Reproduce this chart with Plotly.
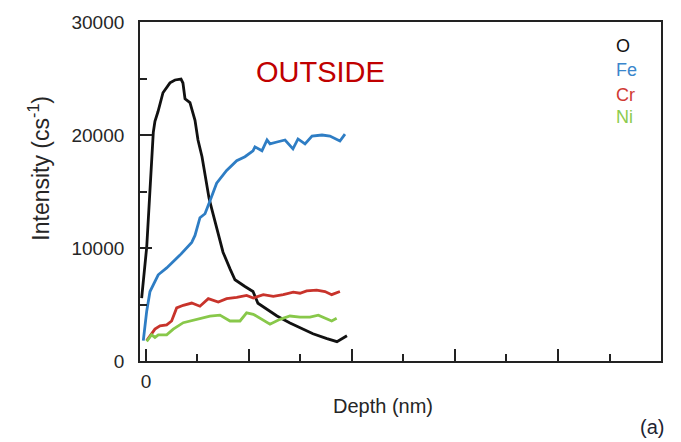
import plotly.graph_objects as go

# ---- data ----
o_depth = [-0.42, 0.07, 0.71, 0.87, 1.17, 1.65, 2.33, 2.82, 3.40, 3.59, 3.79, 4.27, 4.76, 5.05, 5.44,
           5.92, 6.12, 6.41, 6.99, 7.48, 8.16, 8.64, 9.61, 10.39, 10.87, 11.75, 12.72, 13.98, 14.95,
           16.21, 17.57, 18.54, 19.51]
o_int = [5570, 10070, 20230, 21210, 22080, 23740, 24610, 24870, 24950, 24600, 23210, 22860, 21300, 19560,
         18080, 15730, 14420, 13380, 11370, 9630, 8150, 7190, 6590, 6150, 5110, 4590, 3980, 3370, 2930,
         2410, 1980, 1710, 2240]

fe_depth = [-0.26, 0.07, 0.39, 0.71, 1.19, 2.01, 3.30, 4.44, 4.76, 5.24, 5.73, 6.21, 6.86, 7.83, 8.81,
            9.61, 10.39, 10.58, 11.26, 11.75, 12.04, 12.72, 13.50, 14.27, 14.76, 15.44, 16.12, 17.09,
            17.86, 18.83, 19.32]
fe_int = [1800, 4410, 6150, 6760, 7630, 8240, 9370, 10500, 11110, 12680, 13030, 14160, 15730, 16860, 17730,
          18080, 18600, 18950, 18600, 19560, 19210, 19380, 19560, 18770, 19650, 19210, 19910, 20000,
          19910, 19470, 20080]

cr_depth = [0.07, 0.87, 1.36, 2.01, 2.49, 2.98, 3.62, 4.44, 5.24, 6.05, 7.02, 7.83, 8.81, 9.77, 10.42,
            11.39, 12.36, 13.33, 14.30, 14.95, 15.60, 16.57, 17.38, 18.03, 18.83]
cr_int = [1800, 2820, 3110, 3190, 3540, 4700, 4930, 5130, 4850, 5520, 5220, 5520, 5630, 5800, 5570,
          5870, 5720, 5870, 6090, 6000, 6210, 6270, 6150, 5870, 6150]

ni_depth = [0.07, 0.55, 0.87, 1.20, 2.01, 2.65, 3.62, 4.92, 6.21, 7.18, 8.16, 9.13, 9.77, 10.42, 11.23,
            12.04, 13.01, 13.98, 14.95, 15.92, 16.73, 17.54, 18.03, 18.51]
ni_int = [1740, 2320, 2090, 2320, 2320, 2820, 3390, 3690, 3980, 4060, 3540, 3540, 4260, 4130, 3690,
          3250, 3690, 3980, 3890, 3890, 4060, 3690, 3540, 3780]

series_names = ["O", "Fe", "Cr", "Ni"]
line_colors = ["#111111", "#2E7DC4", "#C8332B", "#88C84A"]
label_colors = ["#111111", "#3A86CC", "#D03A33", "#8CCB4E"]

x_labeled_ticks = [0]
x_tick_labels = ["0"]
x_unlabeled_major_ticks = [10, 20, 30, 40]
y_major_ticks = [0, 10000, 20000, 30000]
y_tick_labels = ["0", "10000", "20000", "30000"]

FONT = "Liberation Sans, Arial, Helvetica, sans-serif"
TXT = "#262626"
X_RANGE = [-0.58, 50]

fig = go.Figure()
for xs, ys, col in zip([o_depth, fe_depth, cr_depth, ni_depth],
                       [o_int, fe_int, cr_int, ni_int], line_colors):
    fig.add_trace(go.Scatter(x=xs, y=ys, mode="lines",
                             line=dict(color=col, width=2.8), showlegend=False,
                             hoverinfo="skip"))
# empty helper trace so that the overlaying tick-only axis is drawn
fig.add_trace(go.Scatter(x=[], y=[], xaxis="x2", yaxis="y", showlegend=False,
                         hoverinfo="skip"))

fig.update_layout(
    width=681, height=442,
    margin=dict(l=140, r=20, t=16, b=81),
    paper_bgcolor="white", plot_bgcolor="white",
    font=dict(family=FONT, color=TXT, size=19),
    showlegend=False,
)

tick_style = dict(ticks="inside", ticklen=12, tickwidth=1.8, tickcolor="#222")
fig.update_layout(
    xaxis=dict(
        range=X_RANGE, showgrid=False, zeroline=False,
        showline=True, linecolor="#222", linewidth=1.8, mirror=True,
        tickmode="array", tickvals=x_labeled_ticks, ticktext=x_tick_labels,
        ticklabelstandoff=2,
        minor=dict(tickmode="linear", tick0=5, dtick=10, ticks="inside", ticklen=7,
                   tickwidth=1.8, tickcolor="#222", showgrid=False),
        tickfont=dict(size=19, color=TXT), **tick_style,
    ),
    xaxis2=dict(
        range=X_RANGE, overlaying="x", anchor="y", side="bottom",
        showgrid=False, zeroline=False, showline=False, showticklabels=False,
        tickmode="array", tickvals=x_unlabeled_major_ticks, **tick_style,
    ),
    yaxis=dict(
        range=[0, 30000], showgrid=False, zeroline=False,
        showline=True, linecolor="#222", linewidth=1.8, mirror=True,
        tickmode="array", tickvals=y_major_ticks, ticktext=y_tick_labels,
        ticklabelstandoff=10,
        minor=dict(tickmode="linear", tick0=5000, dtick=10000, ticks="inside", ticklen=7,
                   tickwidth=1.8, tickcolor="#222", showgrid=False),
        tickfont=dict(size=19, color=TXT), **tick_style,
    ),
)

annotations = [
    dict(text="OUTSIDE", x=0.347, y=0.852, font=dict(size=29, color="#C00000"),
         xanchor="center", yanchor="middle"),
    dict(text="Intensity (cs<sup>-1</sup>)", x=-0.194, y=0.570, textangle=-90,
         font=dict(size=23, color=TXT), xanchor="center", yanchor="middle"),
    dict(text="Depth (nm)", x=0.466, y=-0.133, font=dict(size=20, color=TXT),
         xanchor="center", yanchor="middle"),
    dict(text="(a)", x=0.983, y=-0.194, font=dict(size=20, color="#1e2433"),
         xanchor="center", yanchor="middle"),
]
label_y = [0.928, 0.857, 0.784, 0.720]
for name, col, ly in zip(series_names, label_colors, label_y):
    annotations.append(dict(text=name, x=0.91, y=ly, xanchor="left", yanchor="middle",
                            font=dict(size=18, color=col)))
for a in annotations:
    a.update(xref="paper", yref="paper", showarrow=False)
fig.update_layout(annotations=annotations)

fig.write_html("out.html", config={"displayModeBar": False},
               post_script="document.body.style.margin='0';document.body.style.padding='0';")
